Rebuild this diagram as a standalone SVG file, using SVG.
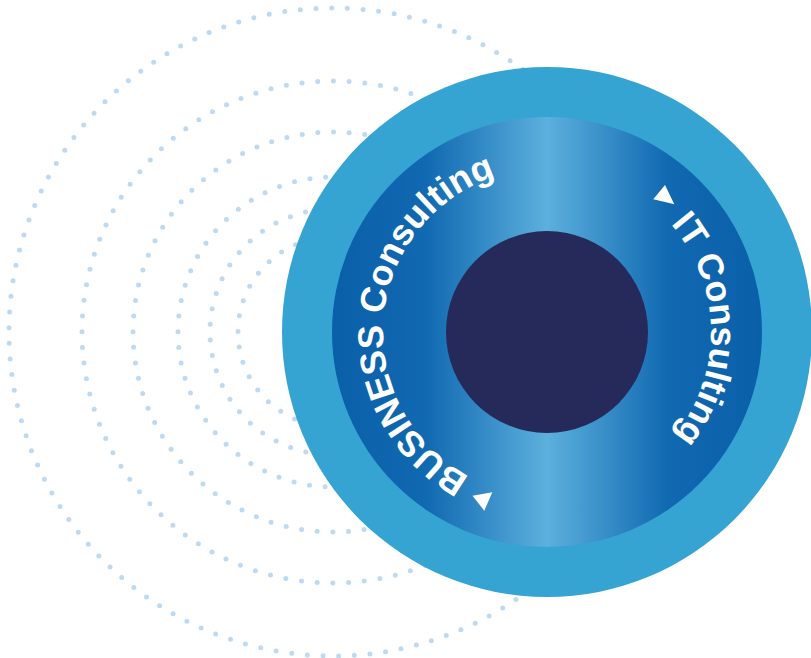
<svg xmlns="http://www.w3.org/2000/svg" width="811" height="658" viewBox="0 0 811 658">
  <defs>
    <linearGradient id="ringGrad" x1="0" y1="0" x2="1" y2="0">
      <stop offset="0" stop-color="#0a5fa9"/>
      <stop offset="0.22" stop-color="#1169b1"/>
      <stop offset="0.5" stop-color="#5cb0dd"/>
      <stop offset="0.78" stop-color="#1169b1"/>
      <stop offset="1" stop-color="#0a5fa9"/>
    </linearGradient>
    <path id="leftArc" d="M 532.7 495.4 A 164 164 0 0 1 561.3 168.6"/>
    <path id="rightArc" d="M 547 168 A 164 164 0 0 1 547 496"/>
  </defs>
  <style>
    .dots { fill: none; stroke: #bfdaf0; stroke-width: 5; stroke-linecap: round; }
    .label { font-family: "Liberation Sans", Arial, sans-serif; font-weight: bold; font-size: 36px; fill: #ffffff; }
  </style>
  <g id="dotted-arcs">
    <circle class="dots" cx="333" cy="332" r="324" stroke-dasharray="0 15.72"/>
    <circle class="dots" cx="333" cy="332" r="251" stroke-dasharray="0 15.77"/>
    <circle class="dots" cx="333" cy="332" r="200" stroke-dasharray="0 15.71"/>
    <circle class="dots" cx="333" cy="332" r="155" stroke-dasharray="0 15.71"/>
    <circle class="dots" cx="333" cy="332" r="123" stroke-dasharray="0 15.76"/>
    <circle class="dots" cx="333" cy="332" r="95" stroke-dasharray="0 15.71"/>
  </g>
  <g id="outer-ring">
    <circle cx="547" cy="332" r="265" fill="#35a4d3"/>
  </g>
  <g id="gradient-ring">
    <circle cx="547" cy="332" r="215" fill="url(#ringGrad)"/>
  </g>
  <g id="core">
    <circle cx="547" cy="332" r="101" fill="#262a5a"/>
  </g>
  <g id="business-label">
    <polygon points="472.5,495.7 492.3,492.3 484.3,510.7" fill="#ffffff"/>
    <text class="label"><textPath href="#leftArc" startOffset="50%" text-anchor="middle">BUSINESS Consulting</textPath></text>
  </g>
  <g id="it-label">
    <polygon points="653.3,199.3 665,185 674.3,204.3" fill="#ffffff"/>
    <text class="label"><textPath href="#rightArc" startOffset="49.5%" text-anchor="middle">IT Consulting</textPath></text>
  </g>
</svg>
